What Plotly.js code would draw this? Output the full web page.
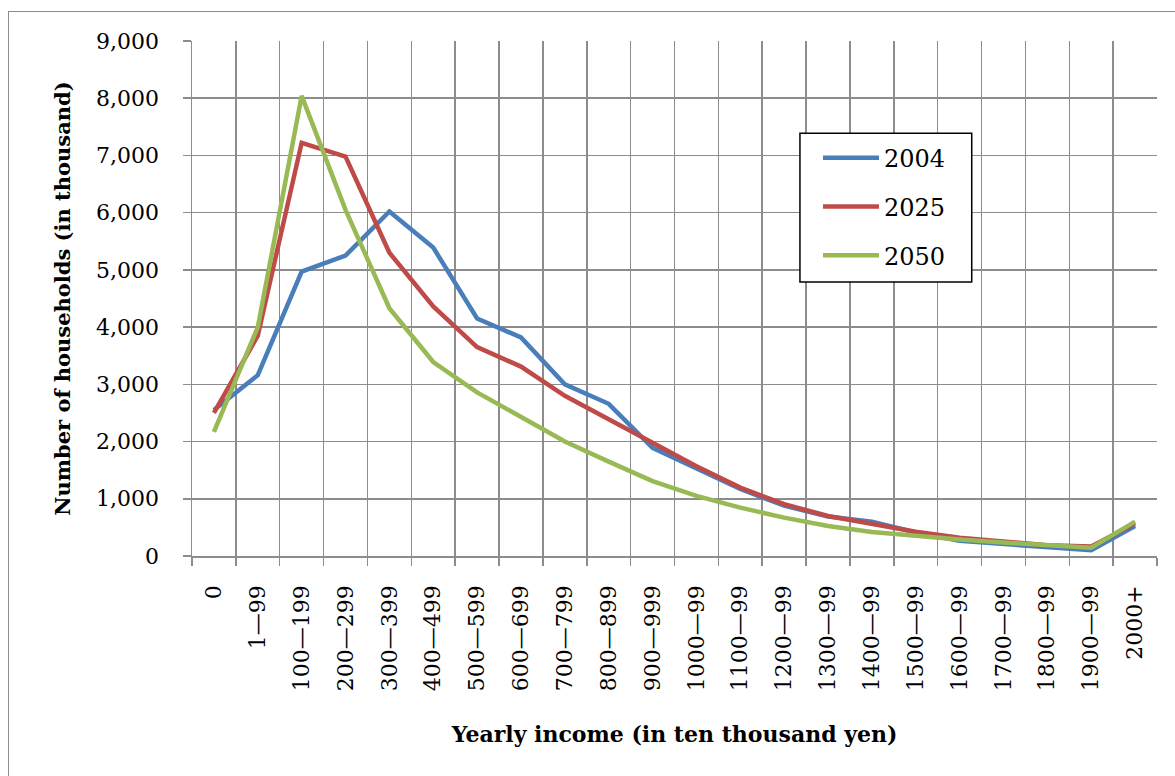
<!DOCTYPE html>
<html>
<head>
<meta charset="utf-8">
<script src="https://cdn.plot.ly/plotly-3.0.1.min.js"></script>
<style>
  html, body { margin: 0; padding: 0; background: #fff; }
  #chart { position: absolute; left: 0; top: 0; width: 1175px; height: 776px; }
  #frame { position: absolute; left: 8px; top: 11px; width: 1180px; height: 800px;
           border: 1.5px solid #8c8c8c; pointer-events: none; }
</style>
</head>
<body>
<div id="chart"></div>
<div id="frame"></div>
<script>
const categories = ["0","1\u201499","100\u2014199","200\u2014299","300\u2014399","400\u2014499","500\u2014599",
  "600\u2014699","700\u2014799","800\u2014899","900\u2014999","1000\u201499","1100\u201499","1200\u201499",
  "1300\u201499","1400\u201499","1500\u201499","1600\u201499","1700\u201499","1800\u201499","1900\u201499","2000+"];

const series2004 = [2550, 3160, 4970, 5250, 6020, 5390, 4150, 3820, 3000, 2660, 1890, 1540, 1170, 880, 690, 600, 410, 265, 205, 145, 100, 525];
const series2025 = [2500, 3850, 7220, 6980, 5300, 4360, 3650, 3310, 2800, 2390, 1960, 1570, 1195, 905, 700, 565, 425, 320, 250, 190, 165, 570];
const series2050 = [2170, 4000, 8040, 6050, 4330, 3390, 2860, 2440, 2000, 1650, 1310, 1050, 845, 670, 525, 420, 350, 290, 235, 185, 145, 600];

const seriesNames = ["2004", "2025", "2050"];
const yTicks = [0, 1000, 2000, 3000, 4000, 5000, 6000, 7000, 8000, 9000];

const FONT = "'DejaVu Serif', 'Liberation Serif', serif";
const colors = ["#4A7EBB", "#BE4B48", "#98B954"];
const allSeries = [series2004, series2025, series2050];

const traces = allSeries.map((vals, i) => ({
  type: "scatter",
  mode: "lines",
  x: categories,
  y: vals,
  name: seriesNames[i],
  legendgroup: "g" + i,
  line: { color: colors[i], width: 4.5 },
  hoverinfo: "x+y+name"
}));

const layout = {
  width: 1175,
  height: 776,
  margin: { l: 192, r: 18, t: 41, b: 220 },
  paper_bgcolor: "#ffffff",
  plot_bgcolor: "#ffffff",
  font: { family: FONT, color: "#000", size: 21 },
  showlegend: true,
  shapes: [{
    type: "rect", xref: "paper", yref: "paper", layer: "above",
    x0: 0.630, x1: 0.808, y0: 0.532, y1: 0.821,
    fillcolor: "#ffffff", line: { color: "#000", width: 1.5 }
  }],
  legend: {
    x: 0.6487, y: 0.816, xanchor: "left", yanchor: "top",
    borderwidth: 0, bgcolor: "rgba(0,0,0,0)",
    font: { family: FONT, size: 24, color: "#000" },
    traceorder: "grouped", tracegroupgap: 14.5,
    itemwidth: 56
  },
  xaxis: {
    type: "category",
    range: [-0.5, categories.length - 0.5],
    tickson: "boundaries",
    ticks: "outside", ticklen: 8, tickcolor: "#8c8c8c", tickwidth: 1.5,
    showgrid: true, gridcolor: "#8c8c8c", gridwidth: 1.5,
    showline: true, linecolor: "#8c8c8c", linewidth: 1.5,
    tickangle: -90,
    ticklabelstandoff: 19,
    tickfont: { family: FONT, size: 22, color: "#000" },
    title: { text: "<b>Yearly income (in ten thousand yen)</b>", font: { family: FONT, size: 22, color: "#000" }, standoff: 36 },
    fixedrange: true
  },
  yaxis: {
    range: [0, 9000],
    tickvals: yTicks,
    tickformat: ",d",
    ticks: "outside", ticklen: 8, tickcolor: "#8c8c8c", tickwidth: 1.5,
    showgrid: true, gridcolor: "#8c8c8c", gridwidth: 1.5,
    showline: true, linecolor: "#8c8c8c", linewidth: 1.5,
    zeroline: false,
    ticklabelstandoff: 19,
    tickfont: { family: FONT, size: 22, color: "#000" },
    title: { text: "<b>Number of households (in thousand)</b>", font: { family: FONT, size: 21, color: "#000" }, standoff: 20 },
    fixedrange: true
  }
};

Plotly.newPlot("chart", traces, layout, { displayModeBar: false, staticPlot: true });
</script>
</body>
</html>
